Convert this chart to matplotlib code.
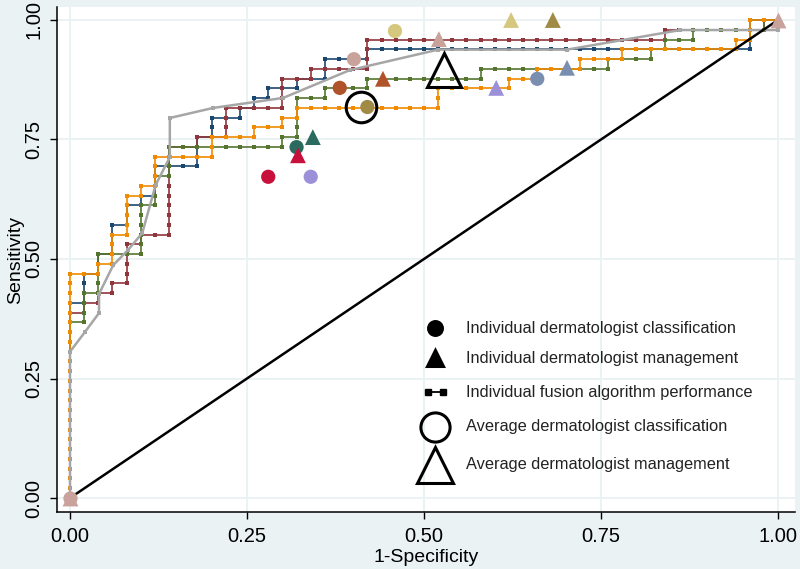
import numpy as np
import matplotlib
matplotlib.use('Agg')
import matplotlib.pyplot as plt

plt.rcParams['font.family'] = ['Liberation Sans', 'DejaVu Sans']

# --- Data ---
# fusion algorithm ROC curves: corner points as (false positives, true positives)
n_neg = 50
n_pos = 49

blue_fp = [0, 0, 1, 1, 2, 2, 3, 3, 4, 4, 5, 5, 6, 6, 9, 9, 10, 10, 12, 12, 13, 13, 14, 14,
           16, 16, 18, 18, 21, 21, 48, 48, 50]
blue_tp = [0, 20, 20, 23, 23, 25, 25, 28, 28, 30, 30, 31, 31, 34, 34, 37, 37, 39, 39, 40, 40, 41, 41, 42,
           42, 43, 43, 45, 45, 46, 46, 49, 49]

red_fp = [0, 0, 1, 1, 2, 2, 3, 3, 4, 4, 5, 5, 7, 7, 9, 9, 11, 11, 15, 15, 17, 17, 21, 21,
          42, 42, 49, 49, 50]
red_tp = [0, 19, 19, 20, 20, 21, 21, 22, 22, 26, 26, 27, 27, 36, 36, 37, 37, 40, 40, 43, 43, 44, 44, 47,
          47, 48, 48, 49, 49]

green_fp = [0, 0, 1, 1, 2, 2, 5, 5, 6, 6, 7, 7, 15, 15, 16, 16, 18, 18, 21, 21, 29, 29,
            38, 38, 41, 41, 42, 42, 44, 44, 49, 49, 50]
green_tp = [0, 18, 18, 21, 21, 25, 25, 30, 30, 33, 33, 36, 36, 37, 37, 41, 41, 42, 42, 43, 43, 44,
            44, 45, 45, 46, 46, 47, 47, 48, 48, 49, 49]

orange_fp = [0, 0, 2, 2, 3, 3, 4, 4, 5, 5, 6, 6, 10, 10, 13, 13, 15, 15, 16, 16, 26, 26,
             31, 31, 33, 33, 36, 36, 39, 39, 47, 47, 48, 48, 50]
orange_tp = [0, 23, 23, 24, 24, 27, 27, 31, 31, 32, 32, 35, 35, 37, 37, 38, 38, 39, 39, 40, 40, 42,
             42, 43, 43, 44, 44, 45, 45, 46, 46, 47, 47, 49, 49]

# pooled curve (gray)
gray_x = [0.0, 0.0, 0.021, 0.041, 0.041, 0.061, 0.082, 0.102, 0.121, 0.141, 0.141, 0.202,
          0.301, 0.395, 0.52, 0.702, 0.862, 1.0]
gray_y = [0.0, 0.306, 0.347, 0.387, 0.427, 0.487, 0.519, 0.554, 0.655, 0.713, 0.795, 0.816,
          0.837, 0.895, 0.938, 0.938, 0.979, 0.979]

# individual dermatologists
derm_colors = ['#c8103c', '#9c90d8', '#2b6b5f', '#b0532a', '#c9a29c', '#d6c77e', '#a08a46', '#7a8fb0']
cls_x = [0.28, 0.34, 0.32, 0.381, 0.401, 0.459, 0.42, 0.66]
cls_y = [0.672, 0.672, 0.734, 0.858, 0.918, 0.977, 0.818, 0.877]
mgmt_x = [0.322, 0.602, 0.343, 0.442, 0.521, 0.623, 0.682, 0.702]
mgmt_y = [0.717, 0.858, 0.755, 0.877, 0.96, 1.0, 1.0, 0.9]

avg_cls = (0.411, 0.818)
avg_mgmt = (0.528, 0.895)

legend_labels = ['Individual dermatologist classification',
                 'Individual dermatologist management',
                 'Individual fusion algorithm performance',
                 'Average dermatologist classification',
                 'Average dermatologist management']


def unit_steps(fp, tp):
    # every case is a threshold, so mark each unit step along the staircase
    xs, ys = [fp[0]], [tp[0]]
    for i in range(1, len(fp)):
        dx, dy = fp[i] - fp[i - 1], tp[i] - tp[i - 1]
        n = max(abs(dx), abs(dy))
        for s in range(1, n + 1):
            xs.append(fp[i - 1] + dx * s / n)
            ys.append(tp[i - 1] + dy * s / n)
    return np.array(xs) / n_neg, np.array(ys) / n_pos


# --- Figure ---
bg = '#eaf2f3'
fig = plt.figure(figsize=(8, 5.69), dpi=100, facecolor=bg)
ax = fig.add_axes([57 / 800, 1 - 512 / 569, 738 / 800, 505 / 569])
ax.set_facecolor('white')

ax.set_xlim((57 - 70) / 708, (795 - 70) / 708)
ax.set_ylim((498 - 512) / 478, (498 - 7) / 478)

ticks = [0, 0.25, 0.5, 0.75, 1.0]
ax.set_xticks(ticks)
ax.set_yticks(ticks)
ax.set_xticklabels(['0.00', '0.25', '0.50', '0.75', '1.00'], fontsize=14.5)
ax.set_yticklabels(['0.00', '0.25', '0.50', '0.75', '1.00'], fontsize=14.5,
                   rotation=90, va='center')
ax.tick_params(length=5, width=1, color='black')
ax.tick_params(axis='x', pad=6)
ax.tick_params(axis='y', pad=5)
ax.grid(True, color=bg, linewidth=1.4)
ax.set_axisbelow(True)
for side in ['top', 'right']:
    ax.spines[side].set_visible(False)
for side in ['left', 'bottom']:
    ax.spines[side].set_linewidth(1.1)

ax.set_xlabel('1-Specificity', fontsize=14, labelpad=2)
ax.set_ylabel('Sensitivity', fontsize=14, labelpad=0)

curves = [(blue_fp, blue_tp, '#1a476f'),
          (red_fp, red_tp, '#90353b'),
          (green_fp, green_tp, '#55752f'),
          (orange_fp, orange_tp, '#f08a00')]
for k, (fp, tp, col) in enumerate(curves):
    sx, sy = unit_steps(fp, tp)
    ax.plot(sx, sy, color=col, lw=1.2, marker='s', ms=3, mew=0, zorder=2 + k * 0.1)

ax.plot(gray_x, gray_y, color='#a6a6a6', lw=1.8, marker='s', ms=3.2, mew=0, zorder=2.5)

ax.plot([0, 1], [0, 1], color='black', lw=1.8, zorder=2.6)

ax.scatter(cls_x, cls_y, s=105, c=derm_colors, marker='o', linewidths=0, zorder=3)
ax.scatter(mgmt_x, mgmt_y, s=130, c=derm_colors, marker='^', linewidths=0, zorder=3)
ax.scatter([0, 1], [0, 1], s=130, c='#c9a29c', marker='^', linewidths=0, zorder=3)
ax.scatter([0], [0], s=105, c='#c9a29c', marker='o', linewidths=0, zorder=3)

ax.plot(*avg_cls, marker='o', ms=22, mfc='none', mec='black', mew=2.2, zorder=4)
ax.plot(*avg_mgmt, marker='^', ms=25, mfc='none', mec='black', mew=2.2, zorder=4)

# legend drawn by hand (Stata-like stacked keys)
def ax_xy(px, py):
    return (px - 57) / 738, (512 - py) / 505

rows = [328, 358, 392, 427, 465]
mk = [('o', 10, 'black', 'black'), ('^', 11, 'black', 'black'), None,
      ('o', 21, 'none', 'black'), ('^', 26, 'none', 'black')]
for py, label, m in zip(rows, legend_labels, mk):
    x0, y0 = ax_xy(435, py)
    if m is None:
        xa, _ = ax_xy(428, py)
        xb, _ = ax_xy(443, py)
        ax.plot([xa, xb], [y0, y0], color='black', lw=1.3, marker='s', ms=4,
                transform=ax.transAxes, clip_on=False, zorder=5)
    else:
        ax.plot(x0, y0, marker=m[0], ms=m[1], mfc=m[2], mec=m[3], mew=2.2,
                transform=ax.transAxes, clip_on=False, zorder=5)
    tx, ty = ax_xy(466, py)
    ax.text(tx, ty, label, transform=ax.transAxes, fontsize=11.8, va='center', ha='left',
            color='#222222', zorder=5)

fig.savefig('out.png', dpi=100, facecolor=bg)
